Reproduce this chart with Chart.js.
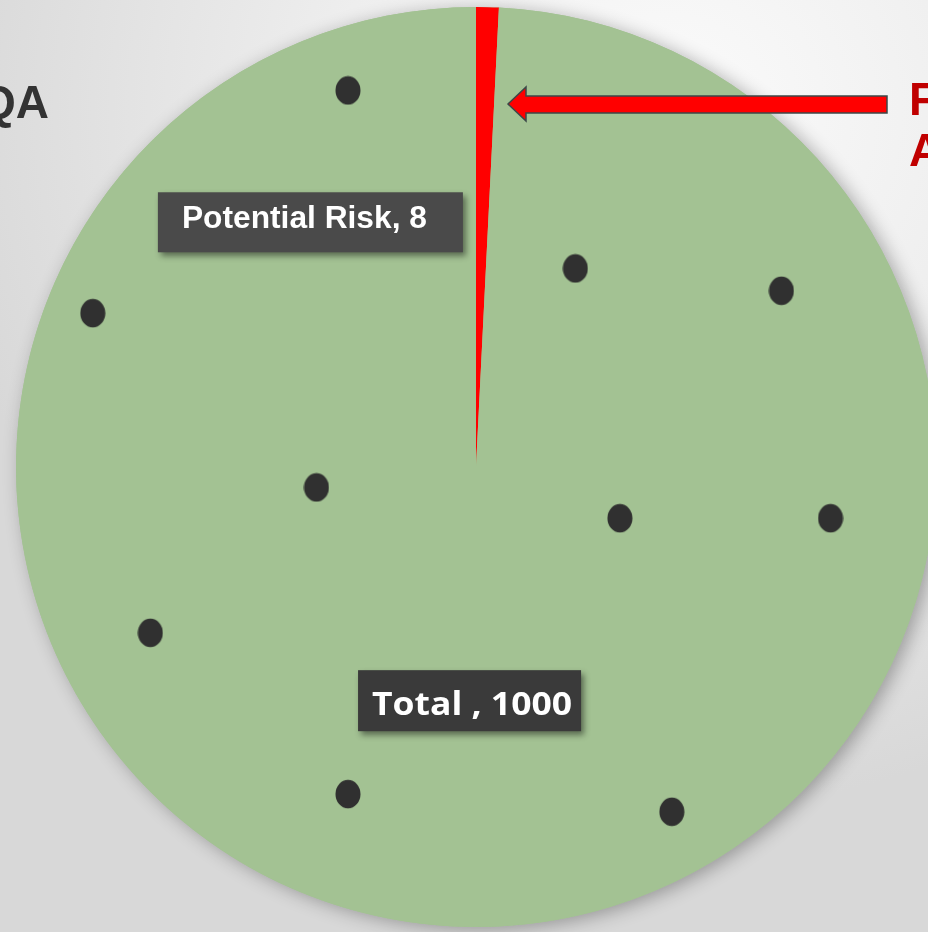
<!DOCTYPE html>
<html>
<head>
<meta charset="utf-8">
<script src="https://cdn.jsdelivr.net/npm/chart.js@4/dist/chart.umd.min.js"></script>
<style>
  html, body { margin: 0; padding: 0; width: 928px; height: 932px; overflow: hidden; }
  body {
    position: relative;
    background: radial-gradient(ellipse 80% 75% at 72% 12%, #fbfbfb 0%, #eeeeee 45%, #d8d8d8 100%);
    font-family: "Liberation Sans", Arial, sans-serif;
  }
  #pie { position: absolute; left: -4px; top: -13px; }
  #dots { position: absolute; left: 0; top: 0; }
  svg { position: absolute; left: 0; top: 0; }
</style>
</head>
<body>
<canvas id="pie" width="960" height="960"></canvas>
<canvas id="dots" width="928" height="932"></canvas>
<svg width="928" height="932">
  <text x="49" y="118" text-anchor="end" font-family="Liberation Sans, Arial" font-weight="bold" font-size="46" fill="#333333">QA</text>
  <polygon points="508,104 526,87 526,96 887,96 887,113 526,113 526,121" fill="#ff0000" stroke="#3c4848" stroke-width="1.5"/>
  <text x="909" y="115" font-family="Liberation Sans, Arial" font-weight="bold" font-size="46" fill="#c00000">F</text>
  <text x="909" y="166" font-family="Liberation Sans, Arial" font-weight="bold" font-size="46" fill="#c00000">A</text>
</svg>
<script>
// dados do gráfico
const sliceLabels = ['Potential Risk', 'Total'];
const sliceValues = [8, 1000];
const sliceColors = ['#ff0000', '#a3c293'];
const labelSeparators = [', ', ' , '];

// pontos pretos espalhados (escala 0-100 nos dois eixos)
const dotX = [37.5, 10.0, 62.0, 84.2, 34.1, 66.8, 89.5, 16.2, 37.5, 72.4];
const dotY = [9.7, 33.6, 28.8, 31.2, 52.3, 55.6, 55.6, 67.9, 85.2, 87.1];

// estilo das caixas de rótulo (posição relativa ao raio)
const labelStyle = [
  { dx: -0.36, dy: -0.532, w: 305, h: 60, fill: '#4a4a4a', font: 'bold 31px "Liberation Sans"', textW: 245, tx: -6, base: 6 },
  { dx: -0.014, dy: 0.508, w: 223, h: 61, fill: '#3a3a3a', font: 'bold 33px "Open Sans"', textW: 200, tx: 2.5, base: 14 }
];

const pieShadow = {
  id: 'pieShadow',
  beforeDatasetsDraw(chart) {
    const arc = chart.getDatasetMeta(0).data[0];
    const ctx = chart.ctx;
    ctx.save();
    ctx.shadowColor = 'rgba(0,0,0,0.3)';
    ctx.shadowBlur = 18;
    ctx.shadowOffsetX = 5;
    ctx.shadowOffsetY = 3;
    ctx.fillStyle = sliceColors[1];
    ctx.beginPath();
    ctx.arc(arc.x, arc.y, arc.outerRadius, 0, Math.PI * 2);
    ctx.fill();
    ctx.restore();
  }
};

const boxLabels = {
  id: 'boxLabels',
  afterDatasetsDraw(chart) {
    const arc = chart.getDatasetMeta(0).data[0];
    const cx = arc.x, cy = arc.y, r = arc.outerRadius;
    const ctx = chart.ctx;
    sliceLabels.forEach((name, i) => {
      const s = labelStyle[i];
      const bx = cx + s.dx * r;
      const by = cy + s.dy * r;
      ctx.save();
      ctx.shadowColor = 'rgba(0,0,0,0.45)';
      ctx.shadowBlur = 6;
      ctx.shadowOffsetX = 3;
      ctx.shadowOffsetY = 4;
      ctx.fillStyle = s.fill;
      ctx.fillRect(bx - s.w / 2, by - s.h / 2, s.w, s.h);
      ctx.restore();

      const text = name + labelSeparators[i] + sliceValues[i];
      ctx.save();
      ctx.font = s.font;
      ctx.fillStyle = '#ffffff';
      ctx.textAlign = 'left';
      ctx.textBaseline = 'alphabetic';
      const k = s.textW / ctx.measureText(text).width;
      ctx.translate(bx + s.tx - s.textW / 2, by + s.base);
      ctx.scale(k, 1);
      ctx.fillText(text, 0, 0);
      ctx.restore();
    });
  }
};

new Chart(document.getElementById('pie'), {
  type: 'pie',
  data: {
    labels: sliceLabels,
    datasets: [{ data: sliceValues, backgroundColor: sliceColors, borderWidth: 0 }]
  },
  options: {
    responsive: false,
    animation: false,
    events: [],
    layout: { padding: 20 },
    plugins: { legend: { display: false }, tooltip: { enabled: false } }
  },
  plugins: [pieShadow, boxLabels]
});

// marcador elíptico para os pontos
const dotImg = document.createElement('canvas');
dotImg.width = 26;
dotImg.height = 30;
const dctx = dotImg.getContext('2d');
dctx.fillStyle = '#303030';
dctx.beginPath();
dctx.ellipse(13, 15, 12.5, 14.3, 0, 0, Math.PI * 2);
dctx.fill();

new Chart(document.getElementById('dots'), {
  type: 'scatter',
  data: {
    datasets: [{ data: dotX.map((x, i) => ({ x, y: dotY[i] })), pointStyle: dotImg, backgroundColor: '#303030', clip: false }]
  },
  options: {
    responsive: false,
    animation: false,
    events: [],
    layout: { padding: 0, autoPadding: false },
    scales: {
      x: { type: 'linear', min: 0, max: 100, display: false },
      y: { type: 'linear', min: 0, max: 100, reverse: true, display: false }
    },
    plugins: { legend: { display: false }, tooltip: { enabled: false } }
  }
});
</script>
</body>
</html>
